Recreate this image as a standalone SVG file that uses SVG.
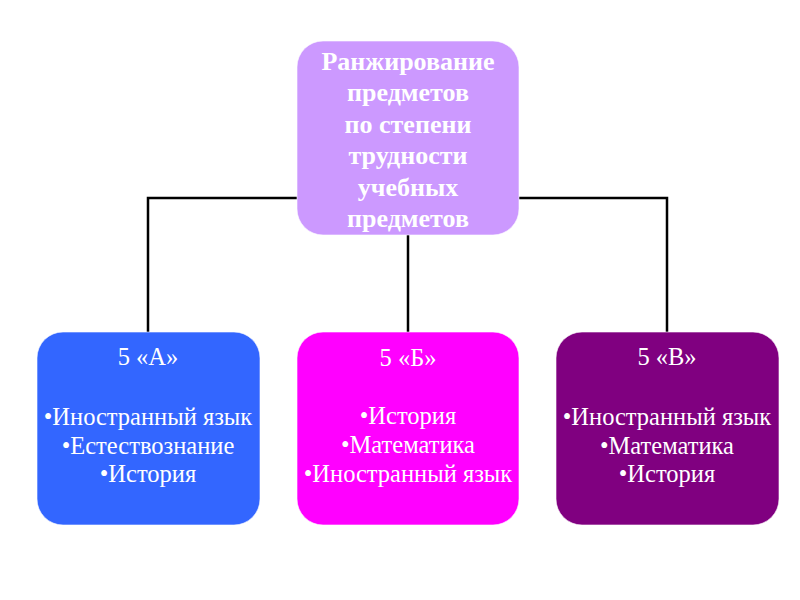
<svg xmlns="http://www.w3.org/2000/svg" width="800" height="600" viewBox="0 0 800 600">
<style>
.conn{fill:none;stroke:#000;stroke-width:2.5}
.box{stroke:#fff;stroke-width:1;stroke-opacity:0.6}
.t{font-family:"Liberation Serif","Times New Roman",serif;fill:#fff;text-anchor:middle}
.tb{font-size:26px;font-weight:bold}
.tr{font-size:24.5px}
</style>
<rect width="800" height="600" fill="#fff"/>
<g id="connectors">
<polyline class="conn" points="148,333 148,198 298,198"/>
<polyline class="conn" points="667,333 667,198 519,198"/>
<line class="conn" x1="408" y1="234" x2="408" y2="333"/>
</g>
<g id="root">
<rect class="box" x="297" y="41" width="222" height="194" rx="26" fill="#CC99FF"/>
<text class="t tb" x="408" y="70">Ранжирование</text>
<text class="t tb" x="408" y="101">предметов</text>
<text class="t tb" x="408" y="133">по степени</text>
<text class="t tb" x="408" y="164">трудности</text>
<text class="t tb" x="408" y="196">учебных</text>
<text class="t tb" x="408" y="227">предметов</text>
</g>
<g id="class5A">
<rect class="box" x="37" y="332" width="223" height="193" rx="26" fill="#3366FF"/>
<text class="t tr" x="148" y="365">5 «А»</text>
<text class="t tr" x="148" y="425">•Иностранный язык</text>
<text class="t tr" x="148" y="454">•Естествознание</text>
<text class="t tr" x="148" y="482">•История</text>
</g>
<g id="class5B">
<rect class="box" x="297" y="332" width="222" height="193" rx="26" fill="#FF00FF"/>
<text class="t tr" x="408" y="366">5 «Б»</text>
<text class="t tr" x="408" y="424">•История</text>
<text class="t tr" x="408" y="453">•Математика</text>
<text class="t tr" x="408" y="482">•Иностранный язык</text>
</g>
<g id="class5V">
<rect class="box" x="556" y="332" width="223" height="193" rx="26" fill="#800080"/>
<text class="t tr" x="667" y="365">5 «В»</text>
<text class="t tr" x="667" y="425">•Иностранный язык</text>
<text class="t tr" x="667" y="454">•Математика</text>
<text class="t tr" x="667" y="482">•История</text>
</g>
</svg>
